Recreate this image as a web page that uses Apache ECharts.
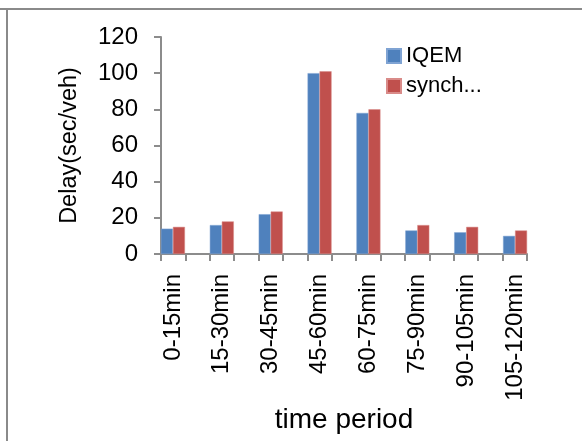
<!DOCTYPE html>
<html>
<head>
<meta charset="utf-8">
<script src="https://cdn.jsdelivr.net/npm/echarts@6/dist/echarts.min.js"></script>
<style>
html,body{margin:0;padding:0;background:#fff;}
#c{width:582px;height:441px;}
</style>
</head>
<body>
<div id="c"></div>
<script>
var categories = ['0-15min','15-30min','30-45min','45-60min','60-75min','75-90min','90-105min','105-120min'];
var iqem = [14, 16, 22, 100, 78, 13, 12, 10];
var synch = [15, 18, 23.5, 101, 80, 16, 15, 13];
var seriesNames = ['IQEM', 'synch...'];
var yTicks = [0, 20, 40, 60, 80, 100, 120];

var FONT = '"Liberation Sans", Arial, sans-serif';
var chart = echarts.init(document.getElementById('c'), null, {renderer: 'canvas'});
var tickCats = [];
for (var i = 0; i < 15; i++) tickCats.push('');

var option = {
  animation: false,
  backgroundColor: '#fff',
  color: ['#4F81BD', '#C0504D'],
  textStyle: {fontFamily: FONT},
  legend: {
    orient: 'vertical',
    left: 381, top: 40,
    itemWidth: 14, itemHeight: 14, itemGap: 8,
    icon: 'rect',
    textStyle: {fontSize: 22, color: '#000', fontFamily: FONT},
    data: seriesNames
  },
  grid: [
    {left: 148.5, right: 42.5, top: 37, bottom: 187},
    {left: 161, right: 55, top: 37, bottom: 187}
  ],
  xAxis: [
    {
      type: 'category', gridIndex: 0, data: categories,
      axisLine: {show: false}, axisTick: {show: false},
      axisLabel: {rotate: 90, fontSize: 24, color: '#000', margin: 20, fontFamily: FONT},
      name: 'time period', nameLocation: 'middle', nameGap: 152,
      nameTextStyle: {fontSize: 28, color: '#000', fontFamily: FONT}
    },
    {
      type: 'category', gridIndex: 1, data: tickCats, boundaryGap: true,
      axisLine: {show: true, lineStyle: {color: '#8c8c8c', width: 2}},
      axisTick: {show: true, length: 7, lineStyle: {color: '#8c8c8c', width: 2}, interval: 0},
      axisLabel: {show: false}
    }
  ],
  yAxis: [
    {type: 'value', gridIndex: 0, min: 0, max: 120, interval: 20, show: false},
    {
      type: 'value', gridIndex: 1, min: 0, max: 120, interval: 20,
      axisLine: {show: true, lineStyle: {color: '#8c8c8c', width: 2}},
      axisTick: {show: true, length: 7, lineStyle: {color: '#8c8c8c', width: 2}},
      splitLine: {show: false},
      axisLabel: {fontSize: 24, color: '#000', margin: 23, fontFamily: FONT,
        formatter: function (v) { return yTicks.indexOf(v) >= 0 ? String(v) : ''; }},
      name: 'Delay(sec/veh)', nameLocation: 'middle', nameGap: 79, nameRotate: 90,
      nameTextStyle: {fontSize: 23.5, color: '#000', fontFamily: FONT}
    }
  ],
  series: [
    {name: seriesNames[0], type: 'bar', xAxisIndex: 0, yAxisIndex: 0, data: iqem,
      barWidth: 12, barGap: '0%', itemStyle: {borderColor: '#7FA3D3', borderWidth: 0.5}},
    {name: seriesNames[1], type: 'bar', xAxisIndex: 0, yAxisIndex: 0, data: synch,
      barWidth: 12, barGap: '0%', itemStyle: {borderColor: '#D98B89', borderWidth: 0.5}}
  ],
  graphic: [
    {type: 'rect', shape: {x: 0, y: 8, width: 582, height: 2}, style: {fill: '#8a8a8a'}, silent: true},
    {type: 'rect', shape: {x: 6, y: 8, width: 2, height: 433}, style: {fill: '#8a8a8a'}, silent: true}
  ]
};
chart.setOption(option);
</script>
</body>
</html>
